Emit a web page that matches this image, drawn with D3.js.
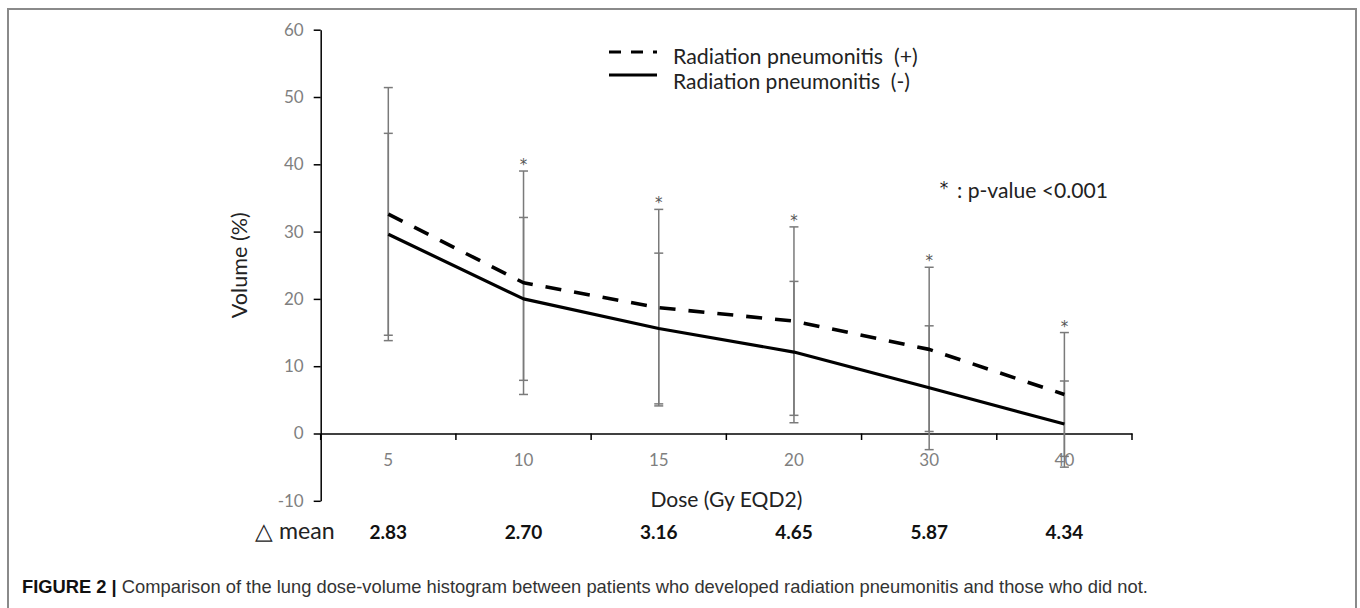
<!DOCTYPE html>
<html>
<head>
<meta charset="utf-8">
<script src="https://cdn.jsdelivr.net/npm/d3@7"></script>
<style>
  html, body { margin: 0; padding: 0; background: #fff; }
  svg { display: block; }
</style>
</head>
<body>
<svg id="chart" width="1360" height="608"></svg>
<script>
// ---- data ----
const doses = ["5", "10", "15", "20", "30", "40"];
const rpPos = [32.6, 22.4, 18.7, 16.7, 12.5, 5.8];   // Radiation pneumonitis (+)
const rpNeg = [29.6, 20.0, 15.6, 12.1, 6.8, 1.4];    // Radiation pneumonitis (-)
const sdPos = [18.8, 16.6, 14.6, 14.0, 12.2, 9.2];
const sdNeg = [15.0, 12.1, 11.2, 10.5, 9.2, 6.4];
const significant = [false, true, true, true, true, true];
const deltaMean = ["2.83", "2.70", "3.16", "4.65", "5.87", "4.34"];
const yTicks = [-10, 0, 10, 20, 30, 40, 50, 60];
const seriesNames = ["Radiation pneumonitis  (+)", "Radiation pneumonitis  (-)"];

const FONT = "Lato, 'Open Sans', sans-serif";
const STAR_FONT = "'DejaVu Sans', sans-serif";
const svg = d3.select("#chart");

// scale a text's font-size so that it spans a given width
function fit(sel, target) {
  const w = sel.node().getComputedTextLength();
  const fs = parseFloat(sel.attr("font-size"));
  sel.attr("font-size", fs * target / w);
  return sel;
}

// frame
svg.append("rect").attr("x", 8).attr("y", 9).attr("width", 1348).attr("height", 640)
  .attr("fill", "none").attr("stroke", "#8a8a8a").attr("stroke-width", 2);

const x = d3.scaleBand().domain(doses).range([320.7, 1132]).padding(0);
const y = d3.scaleLinear().domain([-10, 60]).range([500.8, 29.7]);
const cx = d => x(d) + x.bandwidth() / 2;

// y axis
const yAxis = svg.append("g").attr("transform", "translate(320.7,0)")
  .call(d3.axisLeft(y).tickValues(yTicks).tickFormat(d => String(d)).tickSize(7).tickPadding(10).tickSizeOuter(0));
yAxis.select(".domain").attr("stroke", "#000").attr("stroke-width", 1.5);
yAxis.selectAll(".tick line").attr("stroke", "#000").attr("stroke-width", 1.5);
yAxis.selectAll(".tick text").attr("font-family", FONT).attr("font-size", 17).attr("fill", "#7f7f7f");

// x axis at y=0
const xAxis = svg.append("g").attr("transform", `translate(0,${y(0)})`)
  .call(d3.axisBottom(x).tickSize(0).tickPadding(20).tickSizeOuter(0));
xAxis.select(".domain").attr("stroke", "#000").attr("stroke-width", 1.5);
xAxis.selectAll(".tick text").attr("font-family", FONT).attr("font-size", 17).attr("fill", "#7f7f7f");
// boundary ticks between categories
const bounds = doses.map(d => x(d) + x.bandwidth()).concat([x(doses[0])]);
xAxis.selectAll(".bnd").data(bounds).enter().append("line")
  .attr("x1", d => d).attr("x2", d => d).attr("y1", 0).attr("y2", 6.5)
  .attr("stroke", "#000").attr("stroke-width", 1.5);

// axis titles
const yTitle = svg.append("text").attr("transform", `translate(247,${(y(-10) + y(60)) / 2}) rotate(-90)`)
  .attr("text-anchor", "middle").attr("font-family", FONT).attr("font-size", 20).attr("fill", "#222")
  .text("Volume (%)");
fit(yTitle, 106);
const xTitle = svg.append("text").attr("x", (x.range()[0] + x.range()[1]) / 2).attr("y", 507)
  .attr("text-anchor", "middle").attr("font-family", FONT).attr("font-size", 20).attr("fill", "#222")
  .text("Dose (Gy EQD2)");
fit(xTitle, 152);

// error bars
const errColor = "#7a7a7a";
const capW = 4.5;
function errorBars(means, sds) {
  const g = svg.append("g");
  doses.forEach((d, i) => {
    const xc = cx(d), top = y(means[i] + sds[i]), bot = y(means[i] - sds[i]);
    g.append("line").attr("x1", xc).attr("x2", xc).attr("y1", top).attr("y2", bot)
      .attr("stroke", errColor).attr("stroke-width", 1.5);
    [top, bot].forEach(v => g.append("line").attr("x1", xc - capW).attr("x2", xc + capW)
      .attr("y1", v).attr("y2", v).attr("stroke", errColor).attr("stroke-width", 1.5));
  });
}
errorBars(rpPos, sdPos);
errorBars(rpNeg, sdNeg);

// significance stars
svg.append("g").selectAll("text").data(doses.filter((d, i) => significant[i])).enter().append("text")
  .attr("x", d => cx(d)).attr("y", d => { const i = doses.indexOf(d); return y(rpPos[i] + sdPos[i]) - 1; })
  .attr("text-anchor", "middle").attr("font-family", STAR_FONT).attr("font-size", 15).attr("fill", "#555")
  .text("*");

// lines
const line = d3.line().x((v, i) => cx(doses[i])).y(v => y(v)).curve(d3.curveLinear);
svg.append("path").datum(rpNeg).attr("d", line).attr("fill", "none")
  .attr("stroke", "#000").attr("stroke-width", 3.2).attr("stroke-linejoin", "round");
svg.append("path").datum(rpPos).attr("d", line).attr("fill", "none")
  .attr("stroke", "#000").attr("stroke-width", 3.6).attr("stroke-dasharray", "16,13")
  .attr("stroke-linejoin", "round");

// legend
const leg = svg.append("g");
[[52, 63.5, "12,10"], [75, 88.5, null]].forEach(([ly, ty, dash], i) => {
  const l = leg.append("line").attr("x1", 609).attr("x2", 657).attr("y1", ly).attr("y2", ly)
    .attr("stroke", "#000").attr("stroke-width", 3.2);
  if (dash) l.attr("stroke-dasharray", dash);
  const t = leg.append("text").attr("x", 673).attr("y", ty).attr("font-family", FONT).attr("font-size", 20)
    .attr("fill", "#222").style("white-space", "pre").text(seriesNames[i]);
  fit(t, i === 0 ? 245 : 237);
});

// p-value note
svg.append("text").attr("x", 944).attr("y", 194).attr("text-anchor", "middle")
  .attr("font-family", STAR_FONT).attr("font-size", 17).attr("fill", "#222").text("*");
const pv = svg.append("text").attr("x", 957).attr("y", 198).attr("font-family", FONT).attr("font-size", 20)
  .attr("fill", "#222").text(": p-value <0.001");
fit(pv, 151);

// delta mean row
const dm = svg.append("text").attr("x", 255).attr("y", 539).attr("font-family", FONT).attr("font-size", 19)
  .attr("fill", "#222").text("\u25B3 mean");
fit(dm, 80);
svg.append("g").selectAll("text").data(doses).enter().append("text")
  .attr("x", d => cx(d)).attr("y", 539).attr("text-anchor", "middle")
  .attr("font-family", FONT).attr("font-size", 19).attr("font-weight", 700).attr("fill", "#111")
  .text((d, i) => deltaMean[i]);

// caption
const cap = svg.append("text").attr("x", 22).attr("y", 593)
  .attr("font-family", "'Liberation Sans', Arial, sans-serif").attr("font-size", 17).attr("fill", "#333");
cap.append("tspan").attr("font-weight", "bold").attr("fill", "#111").text("FIGURE 2 |");
cap.append("tspan").text(" Comparison of the lung dose-volume histogram between patients who developed radiation pneumonitis and those who did not.");
fit(cap, 1126);
</script>
</body>
</html>
